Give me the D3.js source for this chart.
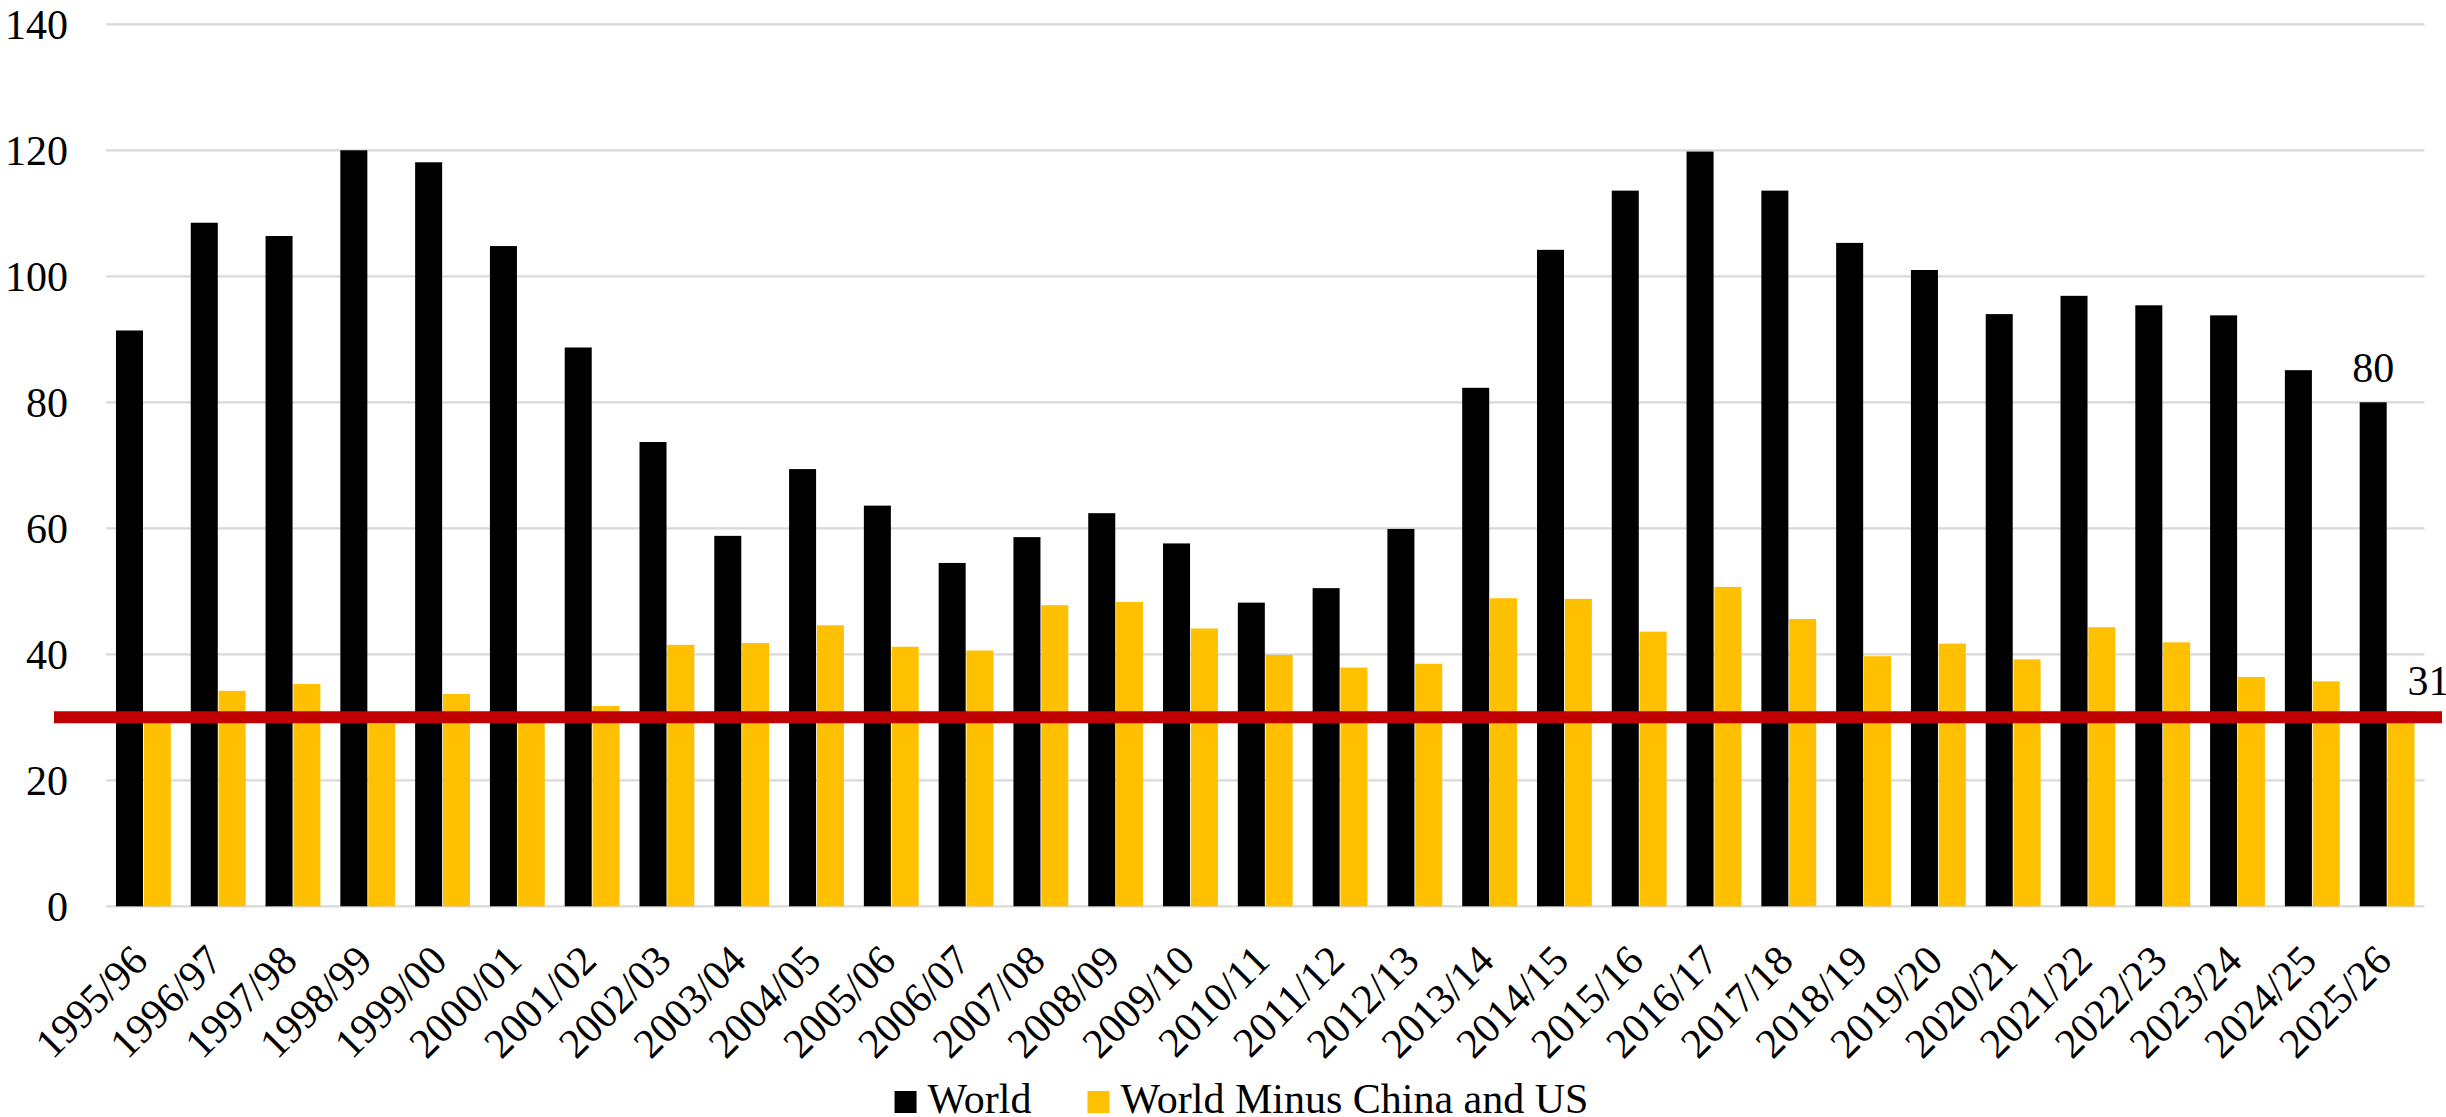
<!DOCTYPE html>
<html>
<head>
<meta charset="utf-8">
<script src="https://cdn.jsdelivr.net/npm/d3@7"></script>
<style>
  html, body { margin: 0; padding: 0; background: #ffffff; }
  svg { display: block; }
  svg text { font-family: 'Liberation Serif', 'Times New Roman', Times, 'DejaVu Serif', serif !important; fill: #000; }
</style>
</head>
<body>
<svg id="chart" width="2446" height="1117"></svg>
<script>
// Marketing years on the category axis
const seasons = [
  "1995/96","1996/97","1997/98","1998/99","1999/00","2000/01","2001/02","2002/03",
  "2003/04","2004/05","2005/06","2006/07","2007/08","2008/09","2009/10","2010/11",
  "2011/12","2012/13","2013/14","2014/15","2015/16","2016/17","2017/18","2018/19",
  "2019/20","2020/21","2021/22","2022/23","2023/24","2024/25","2025/26"
];

// World totals
const worldValues = [
  91.4, 108.5, 106.4, 120.0, 118.1, 104.8, 88.7, 73.7,
  58.8, 69.4, 63.6, 54.5, 58.6, 62.4, 57.6, 48.2,
  50.5, 59.9, 82.3, 104.2, 113.6, 119.8, 113.6, 105.3,
  101.0, 94.0, 96.9, 95.4, 93.8, 85.1, 80.0
];

// World excluding China and the US
const restValues = [
  30.0, 34.2, 35.3, 29.0, 33.7, 30.0, 31.8, 41.5,
  41.8, 44.6, 41.2, 40.6, 47.8, 48.3, 44.1, 39.9,
  37.9, 38.5, 48.9, 48.8, 43.6, 50.7, 45.6, 39.7,
  41.7, 39.2, 44.3, 41.9, 36.4, 35.7, 31.0
];

const seriesNames = ["World", "World Minus China and US"];
const seriesColors = ["#000000", "#FFC000"];
const yTicks = [0, 20, 40, 60, 80, 100, 120, 140];
const referenceLevel = 30;

const SERIF = "'Liberation Serif', 'Times New Roman', Times, 'DejaVu Serif', serif";
const FONT = 42;

const svg = d3.select("#chart")
  .attr("font-family", SERIF)
  .style("font-family", SERIF);

const plot = { left: 106, right: 2424.5, top: 24.3, bottom: 906.3 };

const y = d3.scaleLinear().domain([0, 140]).range([plot.bottom, plot.top]);
const x0 = d3.scaleBand().domain(seasons).range([plot.left, plot.right]).padding(0);
const x1 = d3.scaleBand().domain(seriesNames).range([0, x0.bandwidth()])
  .paddingInner(0.03).paddingOuter(0.358);

function serifText(sel) {
  return sel.attr("font-family", SERIF)
    .style("font-family", SERIF)
    .style("font-size", FONT + "px")
    .attr("fill", "#000");
}

// Horizontal gridlines
svg.append("g")
  .selectAll("line")
  .data(yTicks)
  .join("line")
  .attr("x1", plot.left)
  .attr("x2", plot.right)
  .attr("y1", d => y(d))
  .attr("y2", d => y(d))
  .attr("stroke", "#d9d9d9")
  .attr("stroke-width", 2.2);

// Y-axis labels
const yAxis = d3.axisLeft(y).tickValues(yTicks).tickSize(0).tickPadding(0);
const yg = svg.append("g")
  .attr("transform", `translate(68,0)`)
  .call(yAxis)
  .attr("font-family", SERIF)
  .attr("font-size", FONT);
yg.select(".domain").remove();
yg.selectAll("text")
  .attr("x", 0)
  .attr("dy", "0.34em")
  .call(serifText);

// Bars
const rows = seasons.map((s, i) => ({ season: s, values: [worldValues[i], restValues[i]] }));
const groups = svg.append("g")
  .selectAll("g")
  .data(rows)
  .join("g")
  .attr("transform", d => `translate(${x0(d.season)},0)`);

groups.selectAll("rect")
  .data(d => d.values.map((v, k) => ({ key: seriesNames[k], value: v, k })))
  .join("rect")
  .attr("x", d => x1(d.key))
  .attr("width", x1.bandwidth())
  .attr("y", d => y(d.value))
  .attr("height", d => y(0) - y(d.value))
  .attr("fill", d => seriesColors[d.k]);

// Reference line
svg.append("line")
  .attr("x1", 54)
  .attr("x2", 2442)
  .attr("y1", y(referenceLevel))
  .attr("y2", y(referenceLevel))
  .attr("stroke", "#C00000")
  .attr("stroke-width", 12);

// Value labels for the latest season
const last = seasons.length - 1;
svg.append("text")
  .attr("x", x0(seasons[last]) + x1(seriesNames[0]) + x1.bandwidth() / 2)
  .attr("y", y(worldValues[last]) - 20)
  .attr("text-anchor", "middle")
  .call(serifText)
  .text(d3.format("d")(worldValues[last]));

svg.append("text")
  .attr("x", x0(seasons[last]) + x1(seriesNames[1]) + 20)
  .attr("y", y(restValues[last]) - 16)
  .attr("text-anchor", "start")
  .call(serifText)
  .text(d3.format("d")(restValues[last]));

// Rotated category labels
svg.append("g")
  .selectAll("text")
  .data(seasons)
  .join("text")
  .attr("transform", d => `translate(${x0(d) + x0.bandwidth() / 2 + 6.5},963) rotate(-45)`)
  .attr("text-anchor", "end")
  .call(serifText)
  .text(d => d);

// Legend
const legend = svg.append("g");
const items = legend.selectAll("g")
  .data(seriesNames)
  .join("g");
items.append("rect")
  .attr("width", 22)
  .attr("height", 22)
  .attr("y", 1091)
  .attr("fill", (d, i) => seriesColors[i]);
items.append("text")
  .attr("y", 1113)
  .call(serifText)
  .text(d => d);

let cursor = 0;
const positions = [];
items.each(function (d, i) {
  const w = d3.select(this).select("text").node().getComputedTextLength();
  positions.push(cursor);
  cursor += 22 + 11 + w + (i < seriesNames.length - 1 ? 56 : 0);
});
const legendStart = 1241.5 - cursor / 2;
items.each(function (d, i) {
  const g = d3.select(this);
  g.select("rect").attr("x", legendStart + positions[i]);
  g.select("text").attr("x", legendStart + positions[i] + 33);
});
</script>
</body>
</html>
